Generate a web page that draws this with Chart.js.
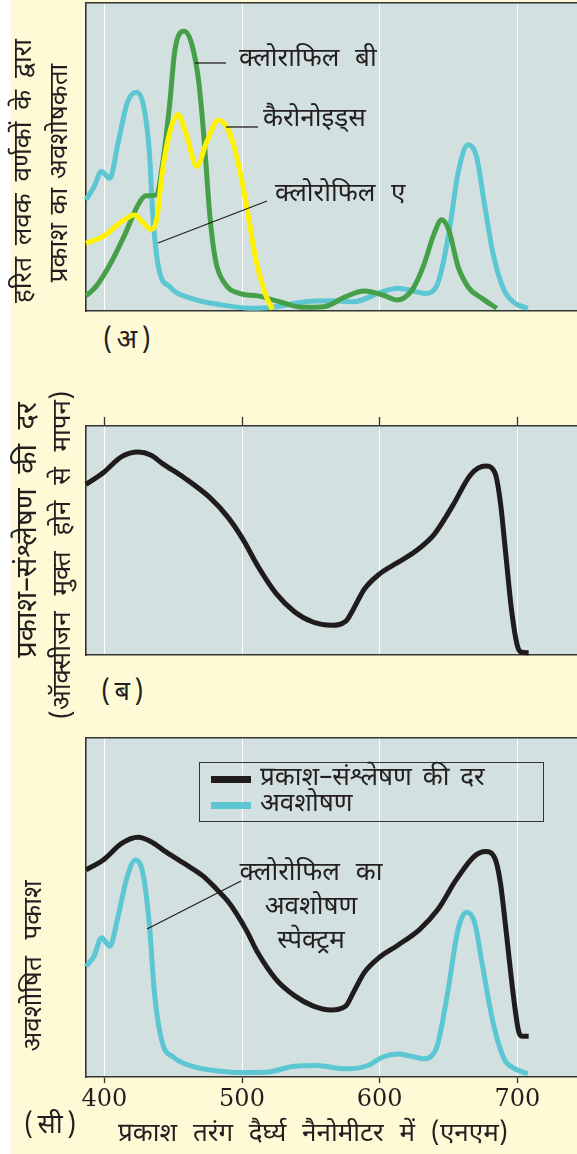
<!DOCTYPE html>
<html lang="hi">
<head>
<meta charset="UTF-8">
<title>अवशोषण और प्रकाश-संश्लेषण</title>
<script src="https://cdn.jsdelivr.net/npm/chart.js"></script>
<style>
  body { margin: 0; width: 577px; height: 1154px; background: #fffad6; position: relative; overflow: hidden;
         font-family: "Noto Sans Devanagari", "Noto Serif Devanagari", "Lohit Devanagari", "Noto Sans", sans-serif; color: #231f20; }
  #strip { position: absolute; left: 0; top: 0; width: 11px; height: 1154px; background: #ffffff; }
  canvas { position: absolute; left: 0; }
  .lbl { position: absolute; white-space: nowrap; font-size: 26px; line-height: 1; }
  .rot { transform: translate(-50%, -50%) rotate(-90deg); }
  .mid { transform: translateY(-50%); }
  .par { letter-spacing: 4px; font-size: 27px; }
  #legend { position: absolute; left: 199px; top: 762px; width: 343px; height: 58px; border: 1.5px solid #333; }
  #legend .row { position: absolute; left: 11px; height: 26px; }
  #legend .sw { position: absolute; left: 0; top: 10px; width: 40px; height: 7px; }
  #legend .tx { position: absolute; left: 49px; top: 0; font-size: 26px; line-height: 26px; white-space: nowrap; word-spacing: 4px; }
</style>
</head>
<body>
<div id="strip"></div>
<canvas id="c1" width="577" height="320" style="top:0px"></canvas>
<canvas id="c2" width="577" height="270" style="top:400px"></canvas>
<canvas id="c3" width="577" height="400" style="top:720px"></canvas>

<div class="lbl rot" style="left:25px; top:171px; word-spacing:5px">हरित लवक वर्णकों के द्वारा</div>
<div class="lbl rot" style="left:61px; top:173px; word-spacing:2px">प्रकाश का अवशोषकता</div>
<div class="lbl mid par" style="left:103px; top:341px">(अ)</div>

<div class="lbl rot" style="left:29px; top:530px; font-size:29px; word-spacing:7px">प्रकाश–संश्लेषण की दर</div>
<div class="lbl rot" style="left:64px; top:555px; word-spacing:9px">(ऑक्सीजन मुक्त होने से मापन)</div>
<div class="lbl mid par" style="left:101px; top:693px">(ब)</div>

<div class="lbl rot" style="left:35px; top:966px; word-spacing:10px">अवशोषित पकाश</div>
<div class="lbl mid par" style="left:24px; top:1126px">(सी)</div>
<div class="lbl mid" style="left:118px; top:1135px; word-spacing:9px">प्रकाश तरंग दैर्घ्य नैनोमीटर में (एनएम)</div>

<div id="legend"></div>

<script>
  // wavelength axis (nm)
  const xMin = 386.7;
  const xMax = 743.3;
  const tickValues = [400, 500, 600, 700];

  // panel (a): pigment absorption
  const chlA_nm = [386.7, 392.6, 397.9, 404, 410, 416.6, 423.3, 428.6, 432.6, 435.3, 439.3, 447.3, 463.3, 484.7, 506, 522.1, 546.1, 564.8, 580.8, 602.2, 612.9, 623.5, 632.9, 642.2, 650.2, 656.9, 664.1, 670.3, 675.6, 682.3, 690.3, 698.3, 707.6];
  const chlA_val = [36.1, 40.4, 45.3, 43.1, 54.5, 67.5, 71.0, 66.4, 52.3, 30.7, 14.4, 7.9, 4.1, 2.0, 0.9, 1.2, 3.0, 3.3, 3.0, 6.3, 7.4, 6.6, 5.7, 9.0, 25.2, 44.7, 54.0, 50.2, 36.1, 18.7, 6.8, 2.5, 0.9];

  const chlB_nm = [386.7, 393.9, 404.6, 415.3, 424.6, 430, 438, 442, 447.3, 451.3, 458, 463.3, 468.7, 472.7, 476.7, 480.7, 487.4, 498.1, 511.4, 527.4, 543.4, 559.5, 575.5, 588.8, 602.2, 612.9, 623.5, 631.6, 639.6, 645, 650.2, 656.9, 664.9, 674.3, 685];
  const chlB_val = [4.9, 7.9, 15.5, 25.2, 34.5, 37.4, 37.7, 46.9, 66.4, 84.8, 90.8, 87.0, 74.0, 54.5, 30.7, 16.6, 9.0, 5.7, 4.9, 3.0, 1.2, 1.4, 4.7, 6.5, 5.2, 3.6, 6.8, 14.4, 25.2, 29.6, 26.3, 14.4, 7.4, 4.1, 0.9];

  const carot_nm = [386.7, 399.2, 412.6, 422, 428.6, 434, 438, 442, 447.3, 453.5, 459.3, 467.3, 474, 482.8, 490, 496.7, 503.4, 510.1, 516.8, 522.1];
  const carot_val = [22, 24.2, 29, 31.2, 28.5, 26.5, 29.6, 44.7, 57.7, 63.7, 57.7, 46.9, 54.5, 61.9, 58.8, 49.1, 33.9, 16.6, 5.7, 0.5];

  // panel (b): rate of photosynthesis
  const rateB_nm = [386.7, 399.2, 412.6, 424.6, 434, 442, 458, 476.7, 490, 500.7, 511.4, 524.7, 538.1, 551.4, 564.8, 575.5, 580.8, 588.8, 599.5, 612.9, 626.2, 639.6, 652.9, 666.3, 677, 683.7, 687.7, 691.7, 695.7, 699.7, 702.4, 708.2];
  const rateB_val = [74.5, 79.6, 86.6, 88.6, 87.2, 83.7, 77.4, 68.7, 60, 50.5, 38.9, 26.9, 18.9, 14.4, 13.0, 14.8, 19.9, 28.7, 35.2, 40.3, 45.4, 52.7, 65.1, 78.9, 82.5, 79.6, 66.5, 43.2, 19.9, 4.7, 1.3, 1.0];

  // panel (c): rate vs absorption
  const rateC_nm = [386.7, 399.2, 412.6, 424.6, 434, 443.3, 458, 472, 482, 489.6, 496, 503.4, 511.4, 524.7, 538.1, 551.4, 564.8, 575.5, 580.8, 588.8, 599.5, 612.9, 628.9, 642.2, 655.6, 669, 677, 683.7, 687.7, 691.7, 697.1, 701.1, 703.8, 708.2];
  const rateC_val = [61.1, 64.0, 68.9, 70.7, 69.4, 66.8, 63, 59.2, 55.2, 51.9, 48.2, 43.1, 36.7, 28.8, 24, 21, 19.8, 21, 24.9, 30.8, 35.2, 38.8, 43.5, 49.4, 58.2, 65.2, 66.5, 64.5, 57.2, 43.5, 24, 13.2, 12, 12];

  const absC_nm = [386.7, 392.6, 397.9, 404, 410, 416.6, 422.7, 428, 432.6, 436.6, 442, 450, 466, 484.7, 498.1, 519.4, 538.1, 554.2, 575.5, 591.5, 602.2, 612.9, 622.2, 631.6, 641, 649, 656.9, 663.1, 669, 674.3, 682.3, 690.3, 698.3, 707.6];
  const absC_val = [32.6, 35.7, 41.1, 38.6, 47.4, 59.1, 64.0, 60.1, 45.5, 24, 10.3, 5.9, 2.9, 1.7, 1.3, 1.5, 3.2, 3.4, 2.4, 3.4, 5.9, 6.8, 6.2, 5.4, 8.3, 24, 43.5, 48.6, 45.5, 33.7, 16.1, 5.4, 2.4, 1.0];

  const legendLabels = ["प्रकाश–संश्लेषण की दर", "अवशोषण"];

  const cyan = "#5cc6d2";
  const green = "#46a049";
  const yellow = "#fff200";
  const black = "#201c1d";
  const frame = "#333333";
  const serif = "'DejaVu Serif', 'Liberation Serif', serif";
  const deva = "'Noto Sans Devanagari', 'Noto Serif Devanagari', 'Lohit Devanagari', 'Noto Sans', sans-serif";

  function pts(xs, ys) {
    return xs.map((x, i) => ({ x: x, y: ys[i] }));
  }

  function line(label, xs, ys, color) {
    return {
      label: label,
      data: pts(xs, ys),
      borderColor: color,
      borderWidth: 5,
      pointRadius: 0,
      fill: false,
      cubicInterpolationMode: "monotone",
      clip: 6,
    };
  }

  const plotBg = {
    id: "plotBg",
    beforeDraw(chart) {
      const a = chart.chartArea;
      const ctx = chart.ctx;
      ctx.save();
      ctx.fillStyle = "#d3e0e0";
      ctx.fillRect(a.left, a.top, a.right - a.left, a.bottom - a.top);
      ctx.restore();
    },
  };

  const notes = {
    id: "notes",
    afterDatasetsDraw(chart, args, opts) {
      const ctx = chart.ctx;
      ctx.save();
      ctx.strokeStyle = "#231f20";
      ctx.lineWidth = 1.3;
      (opts.lines || []).forEach((l) => {
        ctx.beginPath();
        ctx.moveTo(l[0], l[1]);
        ctx.lineTo(l[2], l[3]);
        ctx.stroke();
      });
      ctx.fillStyle = "#231f20";
      ctx.font = "26px " + deva;
      if ("wordSpacing" in ctx) ctx.wordSpacing = "9px";
      ctx.textBaseline = "middle";
      (opts.texts || []).forEach((t) => {
        ctx.textAlign = t.align || "left";
        ctx.fillText(t.text, t.x, t.y);
      });
      ctx.restore();
    },
  };

  function setTicks(axis) {
    axis.ticks = tickValues.map((v) => ({ value: v }));
  }

  function makeOptions(pad, topTick, bottomLabels, noteOpts) {
    return {
      responsive: false,
      animation: false,
      layout: { padding: pad },
      plugins: { legend: { display: false }, tooltip: { enabled: false }, notes: noteOpts },
      scales: {
        x: {
          type: "linear",
          position: "bottom",
          min: xMin,
          max: xMax,
          afterBuildTicks: setTicks,
          afterFit: (s) => { s.height = bottomLabels ? 43 : 0; },
          grid: { color: "#ffffff", lineWidth: 1, drawTicks: bottomLabels, tickLength: 6, tickColor: frame, tickWidth: 1.3 },
          border: { display: true, color: frame, width: 1.6 },
          ticks: { display: bottomLabels, color: "#231f20", font: { family: serif, size: 24 }, padding: 2, maxRotation: 0 },
        },
        xTop: {
          type: "linear",
          position: "top",
          min: xMin,
          max: xMax,
          afterBuildTicks: setTicks,
          afterFit: (s) => { s.height = topTick; },
          grid: { drawOnChartArea: false, drawTicks: topTick > 0, tickLength: topTick, tickColor: frame, tickWidth: 1.3 },
          border: { display: true, color: frame, width: 1.6 },
          ticks: { display: false },
        },
        y: {
          min: 0,
          max: 100,
          afterFit: (s) => { s.width = 0; },
          grid: { display: false },
          border: { display: true, color: frame, width: 1.6 },
          ticks: { display: false },
        },
      },
    };
  }

  // panel (a)
  new Chart(document.getElementById("c1"), {
    type: "line",
    data: {
      datasets: [
        line("कैरोनोइड्स", carot_nm, carot_val, yellow),
        line("क्लोराफिल बी", chlB_nm, chlB_val, green),
        line("क्लोरोफिल ए", chlA_nm, chlA_val, cyan),
      ],
    },
    options: makeOptions({ left: 86, top: 3, right: 0, bottom: 9 }, 0, false, {
      texts: [
        { text: "क्लोराफिल बी", x: 239, y: 61 },
        { text: "कैरोनोइड्स", x: 263, y: 121 },
        { text: "क्लोरोफिल ए", x: 275, y: 196 },
      ],
      lines: [
        [195, 63, 226, 63],
        [226, 127, 258, 127],
        [158, 243, 267, 201],
      ],
    }),
    plugins: [plotBg, notes],
  });

  // panel (b)
  new Chart(document.getElementById("c2"), {
    type: "line",
    data: { datasets: [line("प्रकाश–संश्लेषण की दर", rateB_nm, rateB_val, black)] },
    options: makeOptions({ left: 86, top: 17, right: 0, bottom: 15 }, 9, false, {}),
    plugins: [plotBg, notes],
  });

  // panel (c)
  new Chart(document.getElementById("c3"), {
    type: "line",
    data: {
      datasets: [
        line(legendLabels[0], rateC_nm, rateC_val, black),
        line(legendLabels[1], absC_nm, absC_val, cyan),
      ],
    },
    options: makeOptions({ left: 86, top: 18, right: 0, bottom: 0 }, 0, true, {
      texts: [
        { text: "क्लोरोफिल का", x: 311, y: 155, align: "center" },
        { text: "अवशोषण", x: 311, y: 189, align: "center" },
        { text: "स्पेक्ट्रम", x: 311, y: 223, align: "center" },
      ],
      lines: [[147, 209, 241, 161]],
    }),
    plugins: [plotBg, notes],
  });

  // legend for panel (c)
  const legendEl = document.getElementById("legend");
  [black, cyan].forEach((c, i) => {
    const row = document.createElement("div");
    row.className = "row";
    row.style.top = (3 + i * 26) + "px";
    row.innerHTML = '<div class="sw" style="background:' + c + '"></div><div class="tx">' + legendLabels[i] + "</div>";
    legendEl.appendChild(row);
  });
</script>
</body>
</html>
